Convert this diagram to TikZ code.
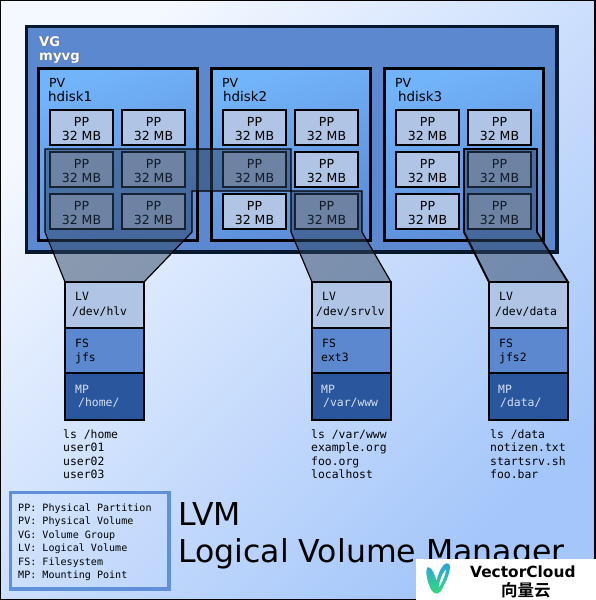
\documentclass[tikz,border=0pt]{standalone}
\usepackage{fontspec}
\setmainfont{DejaVu Sans}
\setmonofont{DejaVu Sans Mono}
\newfontfamily\cjkf[BoldFont={Noto Sans CJK SC Bold}]{Noto Sans CJK SC}
\usetikzlibrary{shadings}
\definecolor{ppfill}{HTML}{B0C4E6}
\definecolor{vgfill}{HTML}{5C88CF}
\definecolor{vgline}{HTML}{06182E}
\definecolor{mpfill}{HTML}{2A569E}
\definecolor{mptext}{HTML}{D4E0F5}
\definecolor{ovfill}{HTML}{2E4462}
\definecolor{ovtext}{HTML}{101A28}
\definecolor{legline}{HTML}{6090D8}
\definecolor{pvtop}{HTML}{72B4FA}
\definecolor{pvbot}{HTML}{5C8CD8}
\definecolor{bgtop}{HTML}{F4F8FF}
\definecolor{bgbot}{HTML}{A4C6FA}
\definecolor{logoa}{HTML}{2C9CE4}
\definecolor{logob}{HTML}{12D8CC}
\definecolor{logoc}{HTML}{34E070}
\tikzset{
 x=1pt,y=-1pt,
 ppbox/.style={draw=black,line width=1.4pt,fill=ppfill,minimum width=63pt,minimum height=35pt,inner sep=0pt},
 pptxt/.style={inner sep=0pt,align=center,font=\fontsize{12.5}{14}\selectfont},
 lab/.style={anchor=base west,inner sep=0pt,font=\fontsize{12.5}{14}\selectfont},
 labb/.style={anchor=base west,inner sep=0pt,font=\fontsize{13.4}{14}\selectfont},
 vgtxt/.style={anchor=base west,inner sep=0pt,font=\fontsize{13.3}{14}\selectfont\bfseries},
 mono/.style={anchor=base west,inner sep=0pt,font=\ttfamily\fontsize{11.4}{13}\selectfont},
 mpt/.style={mono,text=mptext},
 leg/.style={anchor=base west,inner sep=0pt,font=\ttfamily\fontsize{10.07}{13}\selectfont},
 title/.style={anchor=base west,inner sep=0pt,font=\fontsize{31.55}{32}\selectfont},
 pvbox/.style={draw=black,line width=2.6pt,top color=pvtop,bottom color=pvbot,shading angle=20},
 ov/.style={draw=black,line width=1.2pt,fill=ovfill,fill opacity=.5,line join=miter},
 lvbox/.style={draw=black,line width=1.4pt,fill=ppfill},
 fsbox/.style={draw=black,line width=1.4pt,fill=vgfill},
 mpbox/.style={draw=black,line width=1.4pt,fill=mpfill},
}
\begin{document}
\begin{tikzpicture}
\useasboundingbox (0,0) rectangle (596,600);
% background
\shade[top color=bgtop,bottom color=bgbot,shading angle=45] (0,0) rectangle (596,600);
\draw[black,line width=2.2pt] (0,0) rectangle (596,600);
\draw[black,line width=2pt] (595,0) -- (595,600);
% VG
\draw[fill=vgfill,draw=vgline,line width=3.2pt] (26.5,26.5) rectangle (557,252);
\foreach \n/\xa in {1/38.5,2/211.5,3/384.5}{
  \draw[pvbox] (\xa,68.5) rectangle ++(159,172);
}
\foreach \c/\xa in {1/81.5,2/153.5,3/254.5,4/326.5,5/427.5,6/499.5}{
  \foreach \r/\ya in {1/127.5,2/169.5,3/211.5}{
    \node[ppbox] (pp\c\r) at (\xa,\ya) {};
  }
}
% labels
\node[vgtxt,text=black!60] (vgs) at (39.6,46.6) {VG};
\node[vgtxt,text=black!60] (mys) at (39.6,60.6) {myvg};
\node[vgtxt,text=white] (vg) at (39,46) {VG};
\node[vgtxt,text=white] (my) at (39,60) {myvg};
\node[lab] (pv1) at (49,87) {PV};
\node[labb] (hd1) at (48,101) {hdisk1};
\node[lab] (pv2) at (222,87) {PV};
\node[labb] (hd2) at (223,101) {hdisk2};
\node[lab] (pv3) at (395,87) {PV};
\node[labb] (hd3) at (398,101) {hdisk3};
% stacks
\foreach \n/\xa in {1/65,2/312,3/489}{
  \draw[lvbox] (\xa,282) rectangle ++(79,46);
  \draw[fsbox] (\xa,328) rectangle ++(79,45);
  \draw[mpbox] (\xa,373) rectangle ++(79,47);
}
% overlays
\draw[ov] (45,149) -- (291,149) -- (291,191) -- (192,191) -- (192,232) -- (144,282) -- (65,282) -- (45,232) -- cycle;
\draw[ov] (291,191) -- (362,191) -- (362,232) -- (391,282) -- (312,282) -- (291,232) -- cycle;
\draw[ov,line width=1.8pt] (464,149) -- (537,149) -- (537,232) -- (568,282) -- (489,282) -- (464,232) -- cycle;
% partition texts, above the overlays
\foreach \c/\r/\tc in {1/1/black,2/1/black,3/1/black,4/1/black,5/1/black,6/1/black,
  1/2/ovtext,2/2/ovtext,3/2/ovtext,4/2/black,5/2/black,6/2/ovtext,
  1/3/ovtext,2/3/ovtext,3/3/black,4/3/ovtext,5/3/black,6/3/ovtext}{
    \node[pptxt,yshift=-2pt,text=\tc] (ppt\c\r) at (pp\c\r.center) {PP\\32 MB};
}
% stack text
\node[mono] (a1) at (75,300) {LV};
\node[mono] (a2) at (72,315) {/dev/hlv};
\node[mono] (a3) at (75,347) {FS};
\node[mono] (a4) at (75,361) {jfs};
\node[mpt] (a5) at (75,393) {MP};
\node[mpt] (a6) at (78,406) {/home/};
\node[mono] (b1) at (322,300) {LV};
\node[mono] (b2) at (316,315) {/dev/srvlv};
\node[mono] (b3) at (322,347) {FS};
\node[mono] (b4) at (321,361) {ext3};
\node[mpt] (b5) at (321,393) {MP};
\node[mpt] (b6) at (323,406) {/var/www};
\node[mono] (c1) at (499,300) {LV};
\node[mono] (c2) at (495,315) {/dev/data};
\node[mono] (c3) at (499,347) {FS};
\node[mono] (c4) at (499,361) {jfs2};
\node[mpt] (c5) at (498,393) {MP};
\node[mpt] (c6) at (500,406) {/data/};
% listings
\node[mono] (d1) at (63,438) {ls /home};
\node[mono] (d2) at (63,451) {user01};
\node[mono] (d3) at (63,465) {user02};
\node[mono] (d4) at (63,478) {user03};
\node[mono] (e1) at (311,438) {ls /var/www};
\node[mono] (e2) at (311,451) {example.org};
\node[mono] (e3) at (311,465) {foo.org};
\node[mono] (e4) at (311,478) {localhost};
\node[mono] (f1) at (490,438) {ls /data};
\node[mono] (f2) at (490,451) {notizen.txt};
\node[mono] (f3) at (490,465) {startsrv.sh};
\node[mono] (f4) at (490,478) {foo.bar};
% legend
\draw[legline,line width=3.6pt] (10.5,492.5) rectangle (169,589);
\node[leg] (l1) at (18,511) {PP: Physical Partition};
\node[leg] (l2) at (18,524) {PV: Physical Volume};
\node[leg] (l3) at (18,538) {VG: Volume Group};
\node[leg] (l4) at (18,551) {LV: Logical Volume};
\node[leg] (l5) at (18,565) {FS: Filesystem};
\node[leg] (l6) at (18,578) {MP: Mounting Point};
\node[title] (t1) at (178,525) {LVM};
\node[title] (t2) at (178,562) {Logical Volume Manager};
% watermark
\fill[white] (416,559) rectangle (596,600);
\shade[top color=logoa,middle color=logob,bottom color=logoc,even odd rule]
  (428,567) .. controls (424,570) and (428,585) .. (432,591)
  .. controls (436,596) and (440,594) .. (443,587)
  .. controls (447,580) and (452,568) .. (449,564)
  .. controls (446,561) and (441,567) .. (439,573)
  .. controls (438,576) and (437,578) .. (436.5,581)
  .. controls (435,576) and (433,568) .. (428,567) -- cycle
  (446,569) .. controls (442,573) and (439,582) .. (438.5,588)
  .. controls (441,585) and (446,575) .. (446,569) -- cycle;
\node[anchor=base west,inner sep=0pt,font=\fontsize{15.4}{16}\selectfont\bfseries] (w1) at (470,577) {VectorCloud};
\node[anchor=base west,inner sep=0pt,font=\cjkf\fontsize{16.5}{16}\selectfont\bfseries] (w2) at (501,596) {向量云};
\end{tikzpicture}
\end{document}
